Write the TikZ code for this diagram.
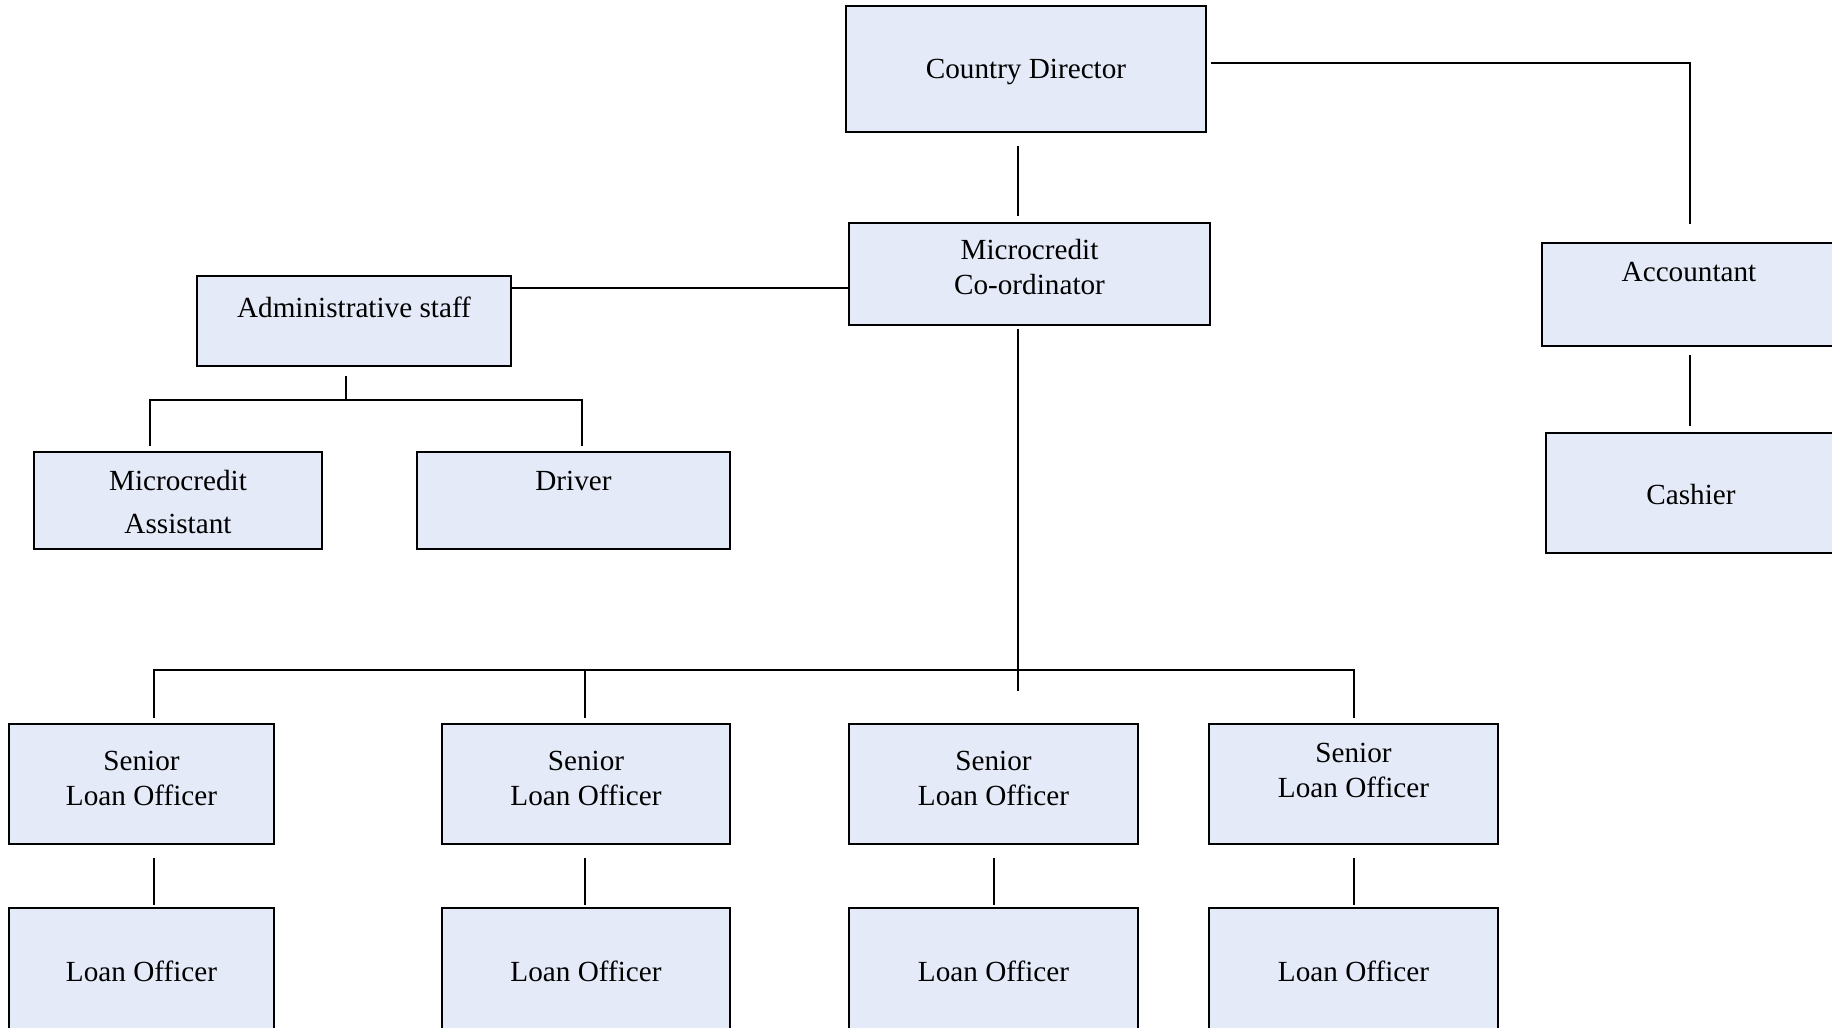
\documentclass[tikz,border=0pt]{standalone}
\usepackage{fontspec}
\setmainfont{Liberation Serif}
\usetikzlibrary{calc}
\definecolor{boxfill}{RGB}{228,234,248}
\begin{document}
\begin{tikzpicture}[x=0.5pt,y=-0.5pt,
  box/.style={draw=black, line width=1pt, fill=boxfill, rectangle, inner sep=0pt},
  lbl/.style={font=\fontsize{14.6pt}{17.5pt}\selectfont, align=center, inner sep=0pt, text=black},
  conn/.style={line width=1pt, draw=black}]
\useasboundingbox (0,0) rectangle (1832,1028);

% boxes
\node[box, minimum width=180pt, minimum height=63pt, label={[lbl,yshift=-1.5pt]center:Country Director}] (cd) at (1026,69) {};
\node[box, minimum width=180.5pt, minimum height=51pt, label={[lbl,yshift=3.25pt]center:{Microcredit\\Co-ordinator}}] (mc) at (1029.5,274) {};
\node[box, minimum width=157pt, minimum height=45pt, label={[lbl,yshift=7pt]center:Administrative staff}] (adm) at (354,321) {};
\node[box, minimum width=144pt, minimum height=48.5pt, label={[lbl,font=\fontsize{14.6pt}{21.5pt}\selectfont,yshift=-1pt]center:{Microcredit\\Assistant}}] (ma) at (178,500.5) {};
\node[box, minimum width=156.5pt, minimum height=48.5pt, label={[lbl,yshift=9.75pt]center:Driver}] (drv) at (573.5,500.5) {};
\node[box, minimum width=147pt, minimum height=51.5pt, label={[lbl,yshift=11.25pt]center:Accountant}] (acc) at (1689,294.5) {};
\node[box, minimum width=145pt, minimum height=60pt, label={[lbl,yshift=-1pt]center:Cashier}] (cash) at (1691,493) {};

\node[box, minimum width=132.5pt, minimum height=60pt, label={[lbl,yshift=2.75pt]center:{Senior\\Loan Officer}}] (slo1) at (141.5,784) {};
\node[box, minimum width=144pt, minimum height=60pt, label={[lbl,yshift=2.75pt]center:{Senior\\Loan Officer}}] (slo2) at (586,784) {};
\node[box, minimum width=144.5pt, minimum height=60pt, label={[lbl,yshift=2.75pt]center:{Senior\\Loan Officer}}] (slo3) at (993.5,784) {};
\node[box, minimum width=144.5pt, minimum height=60pt, label={[lbl,yshift=6.75pt]center:{Senior\\Loan Officer}}] (slo4) at (1353.5,784) {};

\node[box, minimum width=132.5pt, minimum height=62pt, label={[lbl,yshift=-0.5pt]center:Loan Officer}] (lo1) at (141.5,970) {};
\node[box, minimum width=144pt, minimum height=62pt, label={[lbl,yshift=-0.5pt]center:Loan Officer}] (lo2) at (586,970) {};
\node[box, minimum width=144.5pt, minimum height=62pt, label={[lbl,yshift=-0.5pt]center:Loan Officer}] (lo3) at (993.5,970) {};
\node[box, minimum width=144.5pt, minimum height=62pt, label={[lbl,yshift=-0.5pt]center:Loan Officer}] (lo4) at (1353.5,970) {};

% connector end points
\coordinate (cdR) at ($(cd.east)+(4,-6)$);
\coordinate (accT) at ($(acc.north)+(1,-18)$);
\coordinate (cdB) at ($(cd.south)+(-8,13)$);
\coordinate (mcT) at ($(mc.north)+(-11.5,-6)$);
\coordinate (admR) at ($(adm.north east)+(0,13)$);
\coordinate (mcL) at ($(mc.west)+(0,15)$);
\coordinate (admB) at ($(adm.south)+(-8,9)$);
\coordinate (admJ) at ($(adm.south)+(-8,33)$);
\coordinate (maT) at ($(ma.north)+(-28,-5)$);
\coordinate (drvT) at ($(drv.north)+(8.5,-5)$);
\coordinate (mcB) at ($(mc.south)+(-11.5,3)$);
\coordinate (mcE) at ($(slo3.north)+(24.5,-32)$);
\coordinate (s1T) at ($(slo1.north)+(12.5,-5)$);
\coordinate (bus1) at ($(slo1.north)+(12.5,-53)$);
\coordinate (s2T) at ($(slo2.north)+(-1,-5)$);
\coordinate (s4T) at ($(slo4.north)+(0.5,-5)$);
\coordinate (accB) at ($(acc.south)+(1,8)$);
\coordinate (cashT) at ($(cash.north)+(-1,-6)$);

% connectors
\draw[conn] (cdR) -| (accT);
\draw[conn] (cdB) -- (mcT);
\draw[conn] (admR) -- (admR -| mcL);
\draw[conn] (admB) -- (admJ);
\draw[conn] (maT) |- (admJ) -| (drvT);
\draw[conn] (mcB) -- (mcE);
\draw[conn] (s1T) -- (bus1) -| (s4T);
\draw[conn] (s2T) -- (s2T |- bus1);
\draw[conn] (accB) -- (cashT);
\draw[conn] ($(slo1.south)+(12.5,13)$) -- ($(lo1.north)+(12.5,-2)$);
\draw[conn] ($(slo2.south)+(-1,13)$) -- ($(lo2.north)+(-1,-2)$);
\draw[conn] ($(slo3.south)+(0.5,13)$) -- ($(lo3.north)+(0.5,-2)$);
\draw[conn] ($(slo4.south)+(0.5,13)$) -- ($(lo4.north)+(0.5,-2)$);
\end{tikzpicture}
\end{document}
